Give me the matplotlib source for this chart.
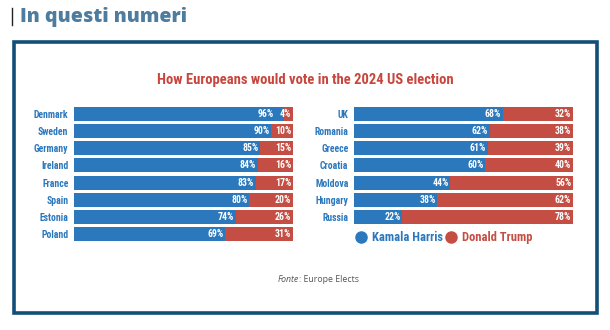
import matplotlib
matplotlib.use("Agg")
import matplotlib.pyplot as plt
from matplotlib.patches import Rectangle
from matplotlib.lines import Line2D

# Harris vs Trump shares, two columns of countries
left_countries = ["Denmark", "Sweden", "Germany", "Ireland", "France", "Spain", "Estonia", "Poland"]
left_harris = [96, 90, 85, 84, 83, 80, 74, 69]
left_trump = [4, 10, 15, 16, 17, 20, 26, 31]

right_countries = ["UK", "Romania", "Greece", "Croatia", "Moldova", "Hungary", "Russia"]
right_harris = [68, 62, 61, 60, 44, 38, 22]
right_trump = [32, 38, 39, 40, 56, 62, 78]

BLUE = "#2b78bd"
RED = "#c44e43"
FRAME = "#124f78"
COND = "Roboto Condensed"

fig = plt.figure(figsize=(6.1, 3.3), dpi=100)
W, H = 610, 330


def px_axes(x0, y0, x1, y1):
    return fig.add_axes([x0 / W, 1 - y1 / H, (x1 - x0) / W, (y1 - y0) / H])


# frame, header, title and source line
over = fig.add_axes([0, 0, 1, 1], zorder=-1)
over.set_xlim(0, W)
over.set_ylim(H, 0)
over.axis("off")
over.add_patch(Rectangle((13.5, 41.5), 583.5, 271.5, fill=False, ec=FRAME, lw=2.6))
over.plot([12, 12], [8, 25], color="#222222", lw=1.0)
over.text(20, 17, "In questi numeri", color="#4d7c9e", fontsize=14,
          fontweight=800, family="Open Sans", va="center", ha="left")
over.text(305, 80, "How Europeans would vote in the 2024 US election", color="#c8463d",
          fontsize=10.5, fontweight="bold", family=COND, ha="center", va="center")
over.text(299, 280, "Fonte", color="#555555", fontsize=6.3, style="italic",
          ha="right", va="center", family="Open Sans")
over.text(299, 280, ": Europe Elects", color="#555555", fontsize=6.3,
          ha="left", va="center", family="Open Sans")


def panel(ax, countries, harris, trump):
    n = len(countries)
    ys = list(range(n))
    ax.barh(ys, harris, height=0.82, color=BLUE, lw=0)
    ax.barh(ys, trump, left=harris, height=0.82, color=RED, lw=0)
    for y, h, t in zip(ys, harris, trump):
        # keep the Harris label clear of a narrow Trump segment
        ax.text(min(h - 0.8, 91.3), y, f"{h}%", color="white", fontsize=7, fontweight="bold",
                family=COND, ha="right", va="center")
        ax.text(99.2, y, f"{t}%", color="white", fontsize=7, fontweight="bold",
                family=COND, ha="right", va="center")
    ax.set_xlim(0, 100)
    ax.set_ylim(n - 0.5, -0.5)
    ax.set_yticks(ys)
    ax.set_yticklabels(countries, color=BLUE, fontsize=7, fontweight="bold", family=COND)
    ax.tick_params(axis="y", length=0, pad=4)
    ax.set_xticks([])
    for s in ax.spines.values():
        s.set_visible(False)


row = 17.15
ax_l = px_axes(74, 105.4, 293, 105.4 + 8 * row)
panel(ax_l, left_countries, left_harris, left_trump)
ax_r = px_axes(354, 105.4, 573, 105.4 + 7 * row)
panel(ax_r, right_countries, right_harris, right_trump)

handles = [Line2D([], [], marker="o", ls="", ms=8, color=BLUE, label="Kamala Harris"),
           Line2D([], [], marker="o", ls="", ms=8, color=RED, label="Donald Trump")]
leg = fig.legend(handles=handles, loc="center left", bbox_to_anchor=(342 / W, 1 - 237.5 / H),
                 ncol=2, frameon=False, handletextpad=0.3, columnspacing=0.0,
                 handlelength=1.2, prop={"family": COND, "weight": "bold", "size": 9})
for t, c in zip(leg.get_texts(), [BLUE, RED]):
    t.set_color(c)

fig.savefig("out.png", dpi=100)
